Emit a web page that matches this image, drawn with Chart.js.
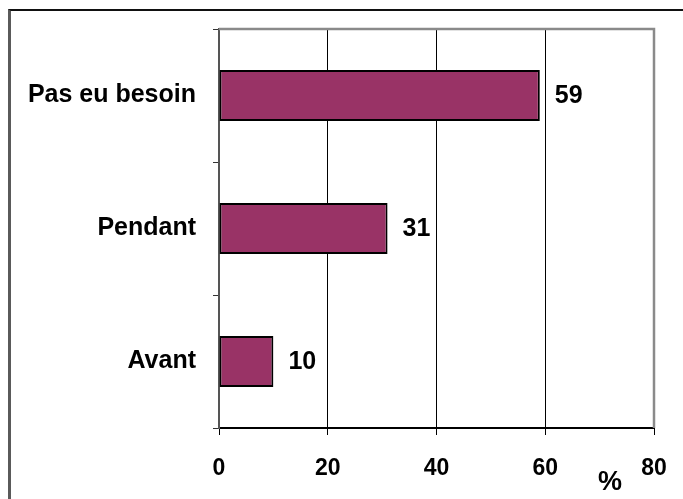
<!DOCTYPE html>
<html>
<head>
<meta charset="utf-8">
<script src="https://cdn.jsdelivr.net/npm/chart.js@4"></script>
<style>
  html, body { margin: 0; padding: 0; background: #fff; }
  #wrap { position: relative; width: 683px; height: 499px; overflow: hidden; }
  #frame { position: absolute; left: 8px; top: 9px; width: 700px; height: 520px;
           border-top: 2px solid #111; border-left: 3px solid #5a5a5a; }
  canvas { position: absolute; left: 0; top: 0; }
</style>
</head>
<body>
<div id="wrap">
  <div id="frame"></div>
  <canvas id="chart" width="683" height="499"></canvas>
</div>
<script>
// chart data
const categories = ["Pas eu besoin", "Pendant", "Avant"];
const values = [59, 31, 10];
const xTicks = [0, 20, 40, 60, 80];
const unitLabel = "%";

const FONT = "'Liberation Sans', Arial, sans-serif";

// value labels next to bars
const valueLabels = {
  id: "valueLabels",
  afterDatasetsDraw(chart) {
    const ctx = chart.ctx;
    const meta = chart.getDatasetMeta(0);
    ctx.save();
    ctx.fillStyle = "#000";
    ctx.font = "bold 25px " + FONT;
    ctx.textAlign = "left";
    ctx.textBaseline = "middle";
    meta.data.forEach((bar, i) => {
      ctx.fillText(String(values[i]), bar.x + 15, bar.y + 1);
    });
    ctx.restore();
  }
};

// grey top/right border of plot area + the % unit
const plotFrame = {
  id: "plotFrame",
  afterDraw(chart) {
    const ctx = chart.ctx;
    const a = chart.chartArea;
    ctx.save();
    ctx.strokeStyle = "#8a8a8a";
    ctx.lineWidth = 2.5;
    ctx.beginPath();
    ctx.moveTo(a.left, a.top);
    ctx.lineTo(a.right, a.top);
    ctx.lineTo(a.right, a.bottom);
    ctx.stroke();
    ctx.fillStyle = "#000";
    ctx.font = "bold 27px " + FONT;
    ctx.textAlign = "center";
    ctx.textBaseline = "middle";
    ctx.fillText(unitLabel, a.right - 44, a.bottom + 55);
    ctx.restore();
  }
};

new Chart(document.getElementById("chart"), {
  type: "bar",
  data: {
    labels: categories,
    datasets: [{
      data: values,
      backgroundColor: "#993366",
      borderColor: "#000",
      borderWidth: 2,
      borderSkipped: false,
      categoryPercentage: 1,
      barPercentage: 0.385
    }]
  },
  options: {
    indexAxis: "y",
    responsive: false,
    animation: false,
    layout: { padding: { top: 29, right: 29, left: 0, bottom: 0 } },
    plugins: {
      legend: { display: false },
      tooltip: { enabled: false }
    },
    scales: {
      x: {
        min: 0,
        max: 80,
        afterBuildTicks: (scale) => { scale.ticks = xTicks.map(v => ({ value: v })); },
        afterFit: (scale) => {
          scale.height = 71;
          scale.paddingLeft = 0;
          scale.paddingRight = 0;
        },
        grid: { color: "#000", lineWidth: 1, tickLength: 7, tickColor: "#000" },
        border: { color: "#000", width: 2 },
        ticks: {
          color: "#000",
          padding: 20,
          maxRotation: 0,
          font: { family: FONT, size: 23, weight: "bold" }
        }
      },
      y: {
        afterFit: (scale) => {
          scale.width = 219;
          scale.paddingTop = 0;
          scale.paddingBottom = 0;
        },
        grid: { drawOnChartArea: false, tickLength: 6, tickColor: "#333", lineWidth: 1 },
        border: { color: "#555", width: 2 },
        ticks: {
          color: "#000",
          padding: 17,
          font: { family: FONT, size: 25, weight: "bold" }
        }
      }
    }
  },
  plugins: [valueLabels, plotFrame]
});
</script>
</body>
</html>
